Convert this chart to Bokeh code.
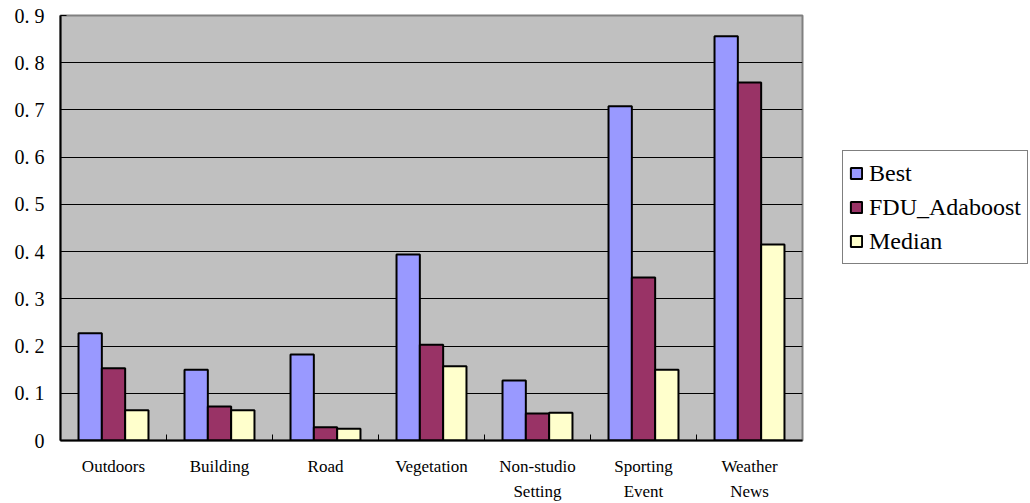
from bokeh.plotting import figure
from bokeh.models import Range1d, FixedTicker, Legend, LegendItem, CustomJSTickFormatter
from bokeh.embed import file_html
from bokeh.resources import INLINE

categories = ["Outdoors", "Building", "Road", "Vegetation",
              "Non-studio\nSetting", "Sporting\nEvent", "Weather\nNews"]
best = [0.227, 0.150, 0.182, 0.394, 0.127, 0.708, 0.856]
fdu_adaboost = [0.153, 0.072, 0.028, 0.203, 0.057, 0.345, 0.758]
median = [0.064, 0.064, 0.025, 0.157, 0.059, 0.150, 0.415]
series_names = ["Best", "FDU_Adaboost", "Median"]
series_colors = ["#9999FF", "#993366", "#FFFFCC"]
y_ticks = [0, 0.1, 0.2, 0.3, 0.4, 0.5, 0.6, 0.7, 0.8, 0.9]
y_labels = ["0", "0. 1", "0. 2", "0. 3", "0. 4", "0. 5", "0. 6", "0. 7", "0. 8", "0. 9"]

FONT = "Liberation Serif"
n = len(categories)

p = figure(frame_width=742, frame_height=425, output_backend="svg", toolbar_location=None,
           x_range=Range1d(0, n), y_range=Range1d(0, 0.9),
           min_border_left=60, min_border_top=15, min_border_bottom=10,
           min_border_right=10)
p.background_fill_color = "#C0C0C0"
p.border_fill_color = "white"
p.outline_line_color = "#808080"
p.outline_line_width = 2

bw = 0.22
offsets = [-bw, 0.0, bw]
all_series = [best, fdu_adaboost, median]
renderers = []
for vals, off, col in zip(all_series, offsets, series_colors):
    xs = [i + 0.5 + off for i in range(n)]
    r = p.vbar(x=xs, top=vals, width=bw, bottom=0, fill_color=col,
               line_color="black", line_width=2)
    renderers.append(r)

# grid
p.xgrid.grid_line_color = None
p.ygrid.ticker = FixedTicker(ticks=y_ticks)
p.ygrid.grid_line_color = "black"
p.ygrid.grid_line_width = 1

# y axis
p.yaxis.ticker = FixedTicker(ticks=y_ticks)
p.yaxis.formatter = CustomJSTickFormatter(args=dict(labels=y_labels),
                                          code="return labels[Math.round(tick * 10)];")
p.yaxis.major_label_text_font = FONT
p.yaxis.major_label_text_font_size = "20px"
p.yaxis.major_label_text_color = "black"
p.yaxis.major_tick_in = 6
p.yaxis.major_tick_out = 0
p.yaxis.minor_tick_line_color = None
p.yaxis.axis_line_color = "black"
p.yaxis.axis_line_width = 2
p.yaxis.major_label_standoff = 16

# x axis
centers = [i + 0.5 for i in range(n)]
bounds = [i for i in range(1, n)]
p.xaxis.ticker = FixedTicker(ticks=centers, minor_ticks=bounds)
p.xaxis.formatter = CustomJSTickFormatter(args=dict(labels=categories),
                                          code="return labels[Math.floor(tick)];")
p.xaxis.major_label_text_font = FONT
p.xaxis.major_label_text_font_size = "17px"
p.xaxis.major_label_text_line_height = 1.35
p.xaxis.major_label_text_color = "black"
p.xaxis.major_tick_in = 0
p.xaxis.major_tick_out = 0
p.xaxis.minor_tick_in = 6
p.xaxis.minor_tick_out = 0
p.xaxis.minor_tick_line_color = "black"
p.xaxis.axis_line_color = "black"
p.xaxis.axis_line_width = 2
p.xaxis.major_label_standoff = 16

legend = Legend(items=[LegendItem(label=nm, renderers=[r]) for nm, r in zip(series_names, renderers)],
                location=(40, 176), margin=0)
legend.label_text_font = FONT
legend.label_text_font_size = "24px"
legend.label_text_color = "black"
legend.glyph_width = 14
legend.glyph_height = 14
legend.label_standoff = 6
legend.spacing = 2
legend.label_height = 32
legend.padding = 6
legend.border_line_color = "black"
legend.border_line_width = 1
legend.background_fill_color = "white"
p.add_layout(legend, "right")

open("out.html", "w").write(file_html(p, INLINE))
